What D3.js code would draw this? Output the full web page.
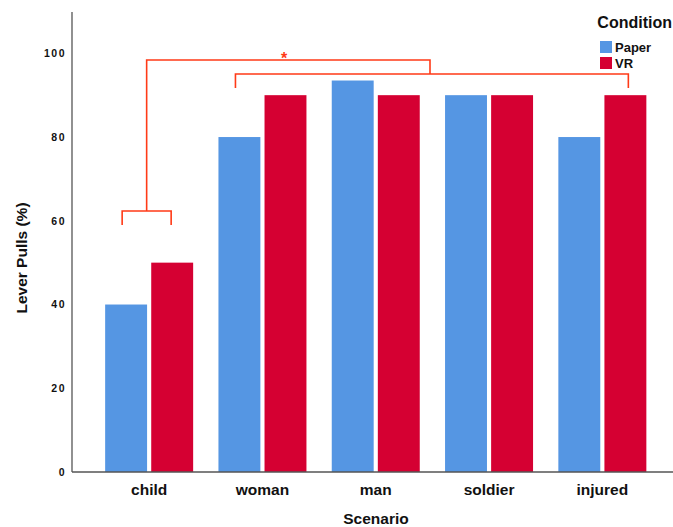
<!DOCTYPE html>
<html>
<head>
<meta charset="utf-8">
<script src="https://cdn.jsdelivr.net/npm/d3@7"></script>
<style>
  body { margin: 0; background: #fff; }
  svg { display: block; font-family: "Liberation Sans", Arial, sans-serif; }
</style>
</head>
<body>
<svg id="chart" width="673" height="527"></svg>
<script>
// Lever pulls by scenario and condition
const scenarios = ["child", "woman", "man", "soldier", "injured"];
const conditions = ["Paper", "VR"];
const paperValues = [40, 80, 93.5, 90, 80];
const vrValues = [50, 90, 90, 90, 90];
const yTicks = [0, 20, 40, 60, 80, 100];
const colors = { Paper: "#5596E3", VR: "#D50032" };

const svg = d3.select("#chart");
const baseY = 472, axisX = 72;

const y = d3.scaleLinear().domain([0, 100]).range([baseY, 53.3]);
const x0 = d3.scaleBand().domain(scenarios).range([92.5, 659]).paddingInner(0).paddingOuter(0);
const x1 = d3.scaleBand().domain(conditions).range([0, 88]).paddingInner(0.09);
const pairOffset = (x0.bandwidth() - 88) / 2;

const rows = scenarios.map((s, i) => ({ s, Paper: paperValues[i], VR: vrValues[i] }));

// bars
const g = svg.append("g");
rows.forEach(r => {
  conditions.forEach(c => {
    g.append("rect")
      .attr("x", x0(r.s) + pairOffset + x1(c))
      .attr("y", y(r[c]))
      .attr("width", x1.bandwidth())
      .attr("height", baseY - y(r[c]))
      .attr("fill", colors[c]);
  });
});

// axes
const yAxis = d3.axisLeft(y).tickValues(yTicks).tickSize(0).tickPadding(6);
const ya = svg.append("g").attr("transform", `translate(${axisX},0)`).call(yAxis);
ya.select(".domain").remove();
ya.selectAll("text").attr("font-size", 10.5).attr("font-weight", "bold")
  .attr("letter-spacing", "1.5px").attr("fill", "#111")
  .attr("font-family", "Liberation Sans, Arial, sans-serif");
svg.append("line").attr("x1", axisX).attr("x2", axisX).attr("y1", 12).attr("y2", baseY)
  .attr("stroke", "#555").attr("stroke-width", 1.3);
svg.append("line").attr("x1", axisX).attr("x2", 673).attr("y1", baseY).attr("y2", baseY)
  .attr("stroke", "#555").attr("stroke-width", 1.3);

const xAxis = d3.axisBottom(x0).tickSize(0).tickPadding(12);
const xa = svg.append("g").attr("transform", `translate(0,${baseY})`).call(xAxis);
xa.select(".domain").remove();
xa.selectAll("text").attr("font-size", 15.5).attr("font-weight", "bold").attr("fill", "#111")
  .attr("font-family", "Liberation Sans, Arial, sans-serif");

// axis titles
svg.append("text").attr("x", 376).attr("y", 524).attr("text-anchor", "middle")
  .attr("font-size", 15.5).attr("font-weight", "bold").attr("fill", "#111").text("Scenario");
svg.append("text").attr("transform", "translate(27,258) rotate(-90)").attr("text-anchor", "middle")
  .attr("font-size", 15.5).attr("font-weight", "bold").attr("fill", "#111").text("Lever Pulls (%)");

// legend
svg.append("text").attr("x", 672).attr("y", 28).attr("text-anchor", "end")
  .attr("font-size", 16).attr("font-weight", "bold").attr("fill", "#111").text("Condition");
conditions.forEach((c, i) => {
  const ly = 41 + i * 16;
  svg.append("rect").attr("x", 600).attr("y", ly).attr("width", 12).attr("height", 12).attr("fill", colors[c]);
  svg.append("text").attr("x", 615).attr("y", ly + 11).attr("font-size", 13).attr("font-weight", "bold")
    .attr("fill", "#111").text(c);
});

// significance brackets
const bc = "#FF3A17";
const childMid = x0("child") + x0.bandwidth() / 2;
const innerL = childMid - 27, innerR = childMid + 22;
const childTop = 211, legLen = 14;
const wideL = x0("woman") + pairOffset + 17, wideR = x0("injured") + pairOffset + 70;
const wideTop = 74, topY = 60;
const wideMid = 430;
const stemX = (innerL + innerR) / 2;
const path = d3.path();
path.moveTo(innerL, childTop + legLen); path.lineTo(innerL, childTop); path.lineTo(innerR, childTop); path.lineTo(innerR, childTop + legLen);
path.moveTo(stemX, childTop); path.lineTo(stemX, topY); path.lineTo(wideMid, topY); path.lineTo(wideMid, wideTop);
path.moveTo(wideL, wideTop + legLen); path.lineTo(wideL, wideTop); path.lineTo(wideR, wideTop); path.lineTo(wideR, wideTop + legLen);
svg.append("path").attr("d", path.toString()).attr("fill", "none").attr("stroke", bc).attr("stroke-width", 1.6);
svg.append("text").attr("x", 284).attr("y", 64).attr("text-anchor", "middle")
  .attr("font-size", 16).attr("font-weight", "bold").attr("fill", bc).text("*");
</script>
</body>
</html>
